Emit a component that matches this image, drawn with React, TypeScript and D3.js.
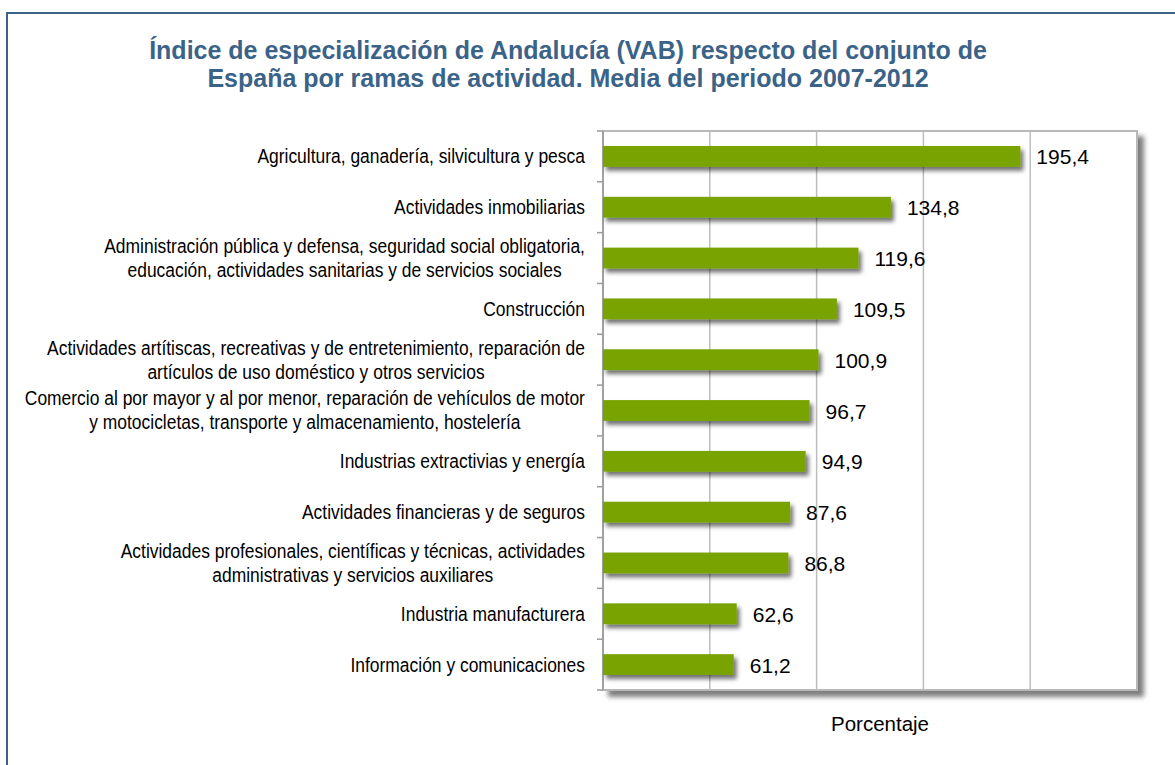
import React from "react";
import * as d3 from "d3";

const categories: string[] = [
  "Agricultura, ganadería, silvicultura y pesca",
  "Actividades inmobiliarias",
  "Administración pública y defensa, seguridad social obligatoria,\neducación, actividades sanitarias y de servicios sociales",
  "Construcción",
  "Actividades artítiscas, recreativas y de entretenimiento, reparación de\nartículos de uso doméstico y otros servicios",
  "Comercio al por mayor y al por menor, reparación de vehículos de motor\ny motocicletas, transporte y almacenamiento, hostelería",
  "Industrias extractivias y energía",
  "Actividades financieras y de seguros",
  "Actividades profesionales, científicas y técnicas, actividades\nadministrativas y servicios auxiliares",
  "Industria manufacturera",
  "Información y comunicaciones",
];
const values: number[] = [195.4, 134.8, 119.6, 109.5, 100.9, 96.7, 94.9, 87.6, 86.8, 62.6, 61.2];
const xTicks: number[] = [0, 50, 100, 150, 200, 250];
const titleLines: string[] = [
  "Índice de especialización de Andalucía (VAB) respecto del conjunto de",
  "España por ramas de actividad. Media del periodo 2007-2012",
];
const axisTitle = "Porcentaje";

const W = 1175;
const H = 765;
const plot = { left: 603, right: 1137, top: 131, bottom: 690 };
const FAMILY = '"Liberation Sans", Arial, sans-serif';
const LABEL_SIZE = 21;
const SX = 0.8305; // horizontal compression to mimic a narrow face

let ctx: CanvasRenderingContext2D | null = null;
function measure(text: string, size: number): number {
  if (!ctx) ctx = document.createElement("canvas").getContext("2d");
  if (!ctx) return text.length * size * 0.5;
  ctx.font = `${size}px ${FAMILY}`;
  return ctx.measureText(text).width;
}

export default function App() {
  const x = d3.scaleLinear().domain([0, 250]).range([plot.left, plot.right]);
  const y = d3
    .scaleBand<number>()
    .domain(d3.range(categories.length))
    .range([plot.top, plot.bottom])
    .paddingInner(0)
    .paddingOuter(0);
  const bw = y.bandwidth();
  const barH = bw * 0.41;
  const fmt = (v: number) => v.toFixed(1).replace(".", ",");

  return (
    <svg
      width={W}
      height={H}
      style={{ position: "absolute", left: 0, top: 0, background: "#fff" }}
    >
      <defs>
        <filter id="barShadow" x="-5%" y="-40%" width="115%" height="220%">
          <feDropShadow dx="3" dy="4" stdDeviation="2.2" floodColor="#000" floodOpacity="0.55" />
        </filter>
        <filter id="plotShadow" x="-5%" y="-5%" width="115%" height="115%">
          <feDropShadow dx="6" dy="6" stdDeviation="2.5" floodColor="#000" floodOpacity="0.5" />
        </filter>
      </defs>
      <rect x={0} y={0} width={W} height={H} fill="#fff" />
      <rect x={7} y={13} width={W + 20} height={H + 20} fill="#fff" stroke="#3b6388" strokeWidth={2} />

      {titleLines.map((t, i) => (
        <text
          key={i}
          x={568}
          y={59 + i * 28}
          textAnchor="middle"
          fontFamily={FAMILY}
          fontWeight="bold"
          fontSize={25}
          fill="#3b6388"
        >
          {t}
        </text>
      ))}

      {/* plot area */}
      <rect
        x={plot.left}
        y={plot.top}
        width={plot.right - plot.left}
        height={plot.bottom - plot.top}
        fill="#fff"
        stroke="#b8b8b8"
        strokeWidth={2}
        filter="url(#plotShadow)"
      />
      {xTicks.slice(1, -1).map((t) => (
        <line key={t} x1={x(t)} x2={x(t)} y1={plot.top} y2={plot.bottom} stroke="#bdbdbd" strokeWidth={1.5} />
      ))}
      {/* left axis */}
      <line x1={plot.left} x2={plot.left} y1={plot.top} y2={plot.bottom} stroke="#9a9a9a" strokeWidth={1.5} />
      {d3.range(categories.length + 1).map((i) => {
        const yy = plot.top + i * bw;
        return <line key={i} x1={plot.left - 6} x2={plot.left} y1={yy} y2={yy} stroke="#9a9a9a" strokeWidth={1.5} />;
      })}

      {/* bars */}
      {values.map((v, i) => {
        const cy = (y(i) as number) + bw / 2;
        return (
          <g key={i}>
            <rect
              x={x(0)}
              y={cy - barH / 2}
              width={x(v) - x(0)}
              height={barH}
              fill="#78a300"
              filter="url(#barShadow)"
            />
            <text x={x(v) + 16} y={cy + 8} fontFamily={FAMILY} fontSize={21} fill="#000">
              {fmt(v)}
            </text>
          </g>
        );
      })}

      {/* category labels */}
      {categories.map((c, i) => {
        const lines = c.split("\n");
        const maxW = Math.max(...lines.map((l) => measure(l, LABEL_SIZE))) * SX;
        const cx = 585 - maxW / 2;
        const cy = (y(i) as number) + bw / 2;
        const lh = 24;
        const y0 = cy - ((lines.length - 1) * lh) / 2 + 7;
        return (
          <g key={i} transform={`translate(${cx},0) scale(${SX},1)`}>
            <text textAnchor="middle" fontFamily={FAMILY} fontSize={LABEL_SIZE} fill="#000">
              {lines.map((l, j) => (
                <tspan key={j} x={0} y={y0 + j * lh}>
                  {l}
                </tspan>
              ))}
            </text>
          </g>
        );
      })}

      <text x={880} y={731} textAnchor="middle" fontFamily={FAMILY} fontSize={20.5} fill="#000">
        {axisTitle}
      </text>
    </svg>
  );
}
